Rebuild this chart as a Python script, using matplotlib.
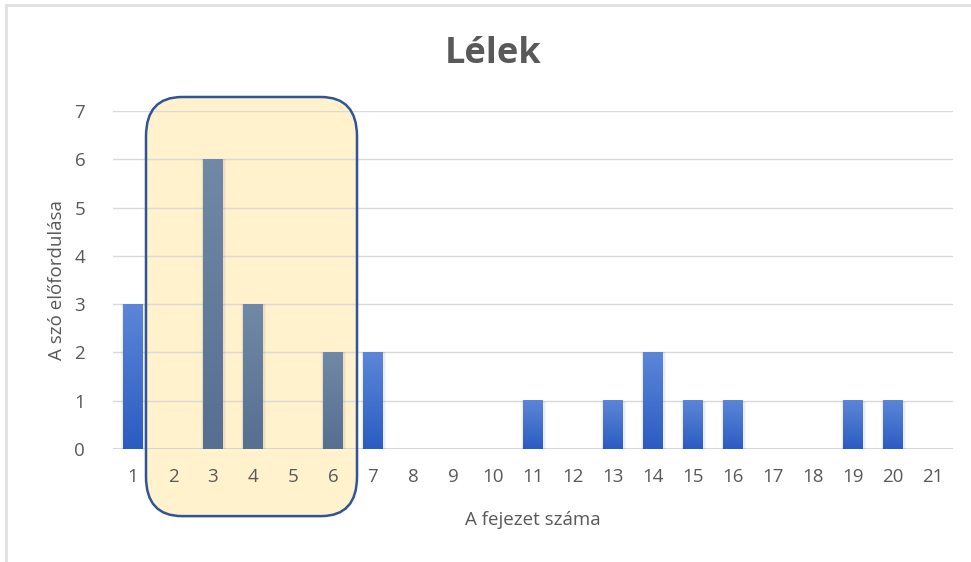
import matplotlib
matplotlib.use("Agg")
import matplotlib.pyplot as plt
import numpy as np
from matplotlib.patches import FancyBboxPatch
from matplotlib.lines import Line2D
from matplotlib.colors import LinearSegmentedColormap

chapters = list(range(1, 22))
counts = [3, 0, 6, 3, 0, 2, 2, 0, 0, 0, 1, 0, 1, 2, 1, 1, 0, 0, 1, 1, 0]
highlight = [2, 3, 4, 5, 6]
title = "Lélek"
xlabel = "A fejezet száma"
ylabel = "A szó előfordulása"

plt.rcParams['font.family'] = ['Open Sans', 'DejaVu Sans']
fig = plt.figure(figsize=(9.71, 5.62), dpi=100)
ax = fig.add_axes([113/971, 1-449/562, 840/971, 338/562])

for s in ax.spines.values():
    s.set_visible(False)
ax.set_yticks(range(0, 8))
ax.yaxis.grid(True, color='#d9d9d9', lw=1.0)
ax.xaxis.set_zorder(2.5)
ax.yaxis.set_zorder(2.5)
ax.tick_params(length=0, labelsize=13.5, labelcolor='#595959')
ax.tick_params(axis='x', pad=14)
ax.tick_params(axis='y', pad=20)
ax.set_xticks(chapters)
ax.set_xticklabels([str(c) for c in chapters])

w = 0.5
grad = np.linspace(0, 1, 64).reshape(-1, 1)
cm_blue = LinearSegmentedColormap.from_list('b', ['#2b5cc2', '#5b86d8'])
cm_gray = LinearSegmentedColormap.from_list('g', ['#566f92', '#7189a6'])
for c, v in zip(chapters, counts):
    if v <= 0:
        continue
    cmap = cm_gray if c in highlight else cm_blue
    # soft shadow
    for k, a in [(0.12, 0.03), (0.07, 0.04)]:
        ax.bar(c + 0.01, v, width=w + k, bottom=0, color='#000000', alpha=a, zorder=2.7, lw=0)
    ax.imshow(grad, cmap=cmap, extent=[c - w/2, c + w/2, 0, v], origin='lower',
              aspect='auto', zorder=3, interpolation='bicubic')
ax.set_xlim(0.5, 21.5)
ax.set_ylim(0, 7)
ax.axhline(0, color='#d0d0d0', lw=1.2, zorder=2.6)

# highlight box
x0, x1 = min(highlight) - 0.675, max(highlight) + 0.6
y0, y1 = -1.39, 7.29
asp = (y1 - y0) / (x1 - x0) * 0.55
box = FancyBboxPatch((x0, y0), x1 - x0, y1 - y0,
                     boxstyle="round,pad=0,rounding_size=0.9",
                     mutation_aspect=asp,
                     facecolor='#fff2cc', edgecolor='none', zorder=1.5, clip_on=False)
ax.add_patch(box)
box2 = FancyBboxPatch((x0, y0), x1 - x0, y1 - y0,
                      boxstyle="round,pad=0,rounding_size=0.9",
                      mutation_aspect=asp,
                      facecolor='none', edgecolor='#2f5597', lw=1.8, zorder=6, clip_on=False)
ax.add_patch(box2)

fig.text(493/971, 1 - 54/562, title, fontsize=26, fontweight='bold', color='#595959',
         ha='center', va='center')
ax.set_xlabel(xlabel, fontsize=13.5, color='#595959', labelpad=18)
ax.set_ylabel(ylabel, fontsize=13.5, color='#595959', labelpad=6)

# outer frame (left and top visible)
fig.add_artist(Line2D([6/971, 6/971], [0, 1 - 5/562], color='#e0e0e0', lw=2, transform=fig.transFigure))
fig.add_artist(Line2D([6/971, 1], [1 - 5/562, 1 - 5/562], color='#e0e0e0', lw=2, transform=fig.transFigure))

fig.savefig('out.png', dpi=100)
